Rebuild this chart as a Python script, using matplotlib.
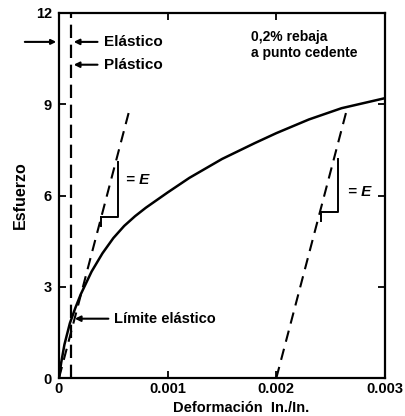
import numpy as np
import matplotlib
matplotlib.use('Agg')
import matplotlib.pyplot as plt

plt.rcParams['font.family'] = ['Liberation Sans', 'DejaVu Sans']
plt.rcParams['font.weight'] = 'bold'

# stress-strain curve
strain = [0, 0.00002, 0.00005, 0.0001, 0.00015, 0.0002, 0.0003, 0.0004,
          0.0005, 0.0006, 0.0007, 0.0008, 0.001, 0.0012, 0.0015, 0.0018,
          0.002, 0.0023, 0.0026, 0.003]
stress = [0, 0.5, 1.1, 1.8, 2.3, 2.75, 3.5, 4.1,
          4.6, 5.0, 5.32, 5.6, 6.1, 6.58, 7.2, 7.72,
          8.05, 8.5, 8.87, 9.2]

modulus = 13600.0          # slope of elastic lines
offset = 0.002             # 0.2 % offset
line_top = 8.9
yield_x, yield_y = 0.00012, 1.95
elastic_limit_x = 0.00011

# slope triangles: (x_left, x_right, y_low, y_high)
tri_left = (0.00039, 0.00054, 5.3, 7.1)
tri_right = (0.00241, 0.00257, 5.45, 7.2)

xticks = [0, 0.001, 0.002, 0.003]
xtick_labels = ['0', '0.001', '0.002', '0.003']
yticks = [0, 3, 6, 9, 12]

fig = plt.figure(figsize=(4.06, 4.16), dpi=100)
ax = fig.add_axes([59 / 406, 38 / 416, 326 / 406, 365 / 416])

ax.plot(strain, stress, color='black', lw=1.8, solid_joinstyle='round')

# elastic line and offset line
dash = dict(color='black', lw=1.5, dashes=(5.5, 3.5))
ax.plot([0, line_top / modulus], [0, line_top], **dash)
ax.plot([offset, offset + line_top / modulus], [0, line_top], **dash)

# vertical dashed line at elastic limit
ax.plot([elastic_limit_x, elastic_limit_x], [0, 12], color='black', lw=1.6,
        dashes=(6, 3))

# slope triangles
for (x0, x1, y0, y1) in (tri_left, tri_right):
    ax.plot([x0, x1, x1], [y0, y0, y1], color='black', lw=1.4)
    ax.plot([x0, x0], [y0, y0 - 0.3], color='black', lw=1.4)

ax.text(0.00062, 6.5, '= E', fontsize=11, style='italic', va='center')
ax.text(0.00266, 6.1, '= E', fontsize=11, style='italic', va='center')

# annotations
arr = dict(arrowstyle='-|>', color='black', lw=1.5, mutation_scale=8)
ax.annotate('', xy=(elastic_limit_x, 11.05), xytext=(0.00038, 11.05),
            arrowprops=arr)
ax.text(0.00041, 11.05, 'Elástico', fontsize=11, va='center')
ax.annotate('', xy=(elastic_limit_x, 10.3), xytext=(0.00038, 10.3),
            arrowprops=arr)
ax.text(0.00041, 10.3, 'Plástico', fontsize=11, va='center')
ax.annotate('', xy=(yield_x, yield_y), xytext=(0.00048, yield_y),
            arrowprops=arr)
ax.text(0.00051, yield_y, 'Límite elástico', fontsize=10.5, va='center')

ax.text(0.00177, 10.95, '0,2% rebaja\na punto cedente', fontsize=10,
        va='center', linespacing=1.25)

# arrow outside the axes on the left
ax.annotate('', xy=(0, 11.05), xytext=(-0.00034, 11.05),
            arrowprops=dict(arrowstyle='-|>', color='black', lw=1.5,
                            mutation_scale=7),
            annotation_clip=False)

ax.set_xlim(0, 0.003)
ax.set_ylim(0, 12)
ax.set_xticks(xticks)
ax.set_xticklabels(xtick_labels)
ax.set_yticks(yticks)
ax.tick_params(direction='in', length=5, width=1.3, top=True, right=True,
               labelsize=10.5, pad=5)
ax.tick_params(axis='x', pad=3)
for lab in ax.get_xticklabels() + ax.get_yticklabels():
    lab.set_fontweight('bold')
for s in ax.spines.values():
    s.set_linewidth(1.6)

ax.set_xlabel('Deformación  In./In.', fontsize=10.5, fontweight='bold')
ax.xaxis.set_label_coords((241 - 59) / 326, -0.062)
ax.set_ylabel('Esfuerzo', fontsize=11.5, fontweight='bold')
ax.yaxis.set_label_coords(-0.095, 0.5)

fig.savefig('out.png', dpi=100)
